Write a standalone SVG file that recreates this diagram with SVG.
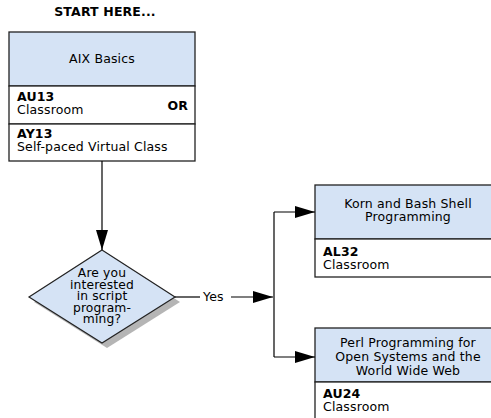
<svg xmlns="http://www.w3.org/2000/svg" width="491" height="418" viewBox="0 0 491 418">
<style>
text{font-family:"DejaVu Sans","Verdana",sans-serif;font-size:12.5px;letter-spacing:0.15px;fill:#000}
.b{font-weight:bold}
.c{text-anchor:middle}
.d{font-size:12.3px}
.hdr{fill:#d5e3f5;stroke:#222;stroke-width:1.3}
.body{fill:#fff;stroke:#222;stroke-width:1.3}
.ln{fill:none;stroke:#000;stroke-width:1.2}
</style>
<defs>
<marker id="ah" viewBox="0 0 20 12" refX="20" refY="6" markerWidth="20" markerHeight="12" markerUnits="userSpaceOnUse" orient="auto">
<path d="M0,0 L20,6 L0,12 Z" fill="#000"/>
</marker>
</defs>
<text class="b c" x="105" y="16">START HERE...</text>
<g id="aix">
<rect class="hdr" x="9" y="32" width="186" height="54"/>
<rect class="body" x="9" y="86" width="186" height="38"/>
<rect class="body" x="9" y="124" width="186" height="37"/>
<text class="c" x="102" y="63">AIX Basics</text>
<text class="b" x="17" y="101">AU13</text>
<text x="17" y="114">Classroom</text>
<text class="b" x="188" y="110" text-anchor="end">OR</text>
<text class="b" x="17" y="138">AY13</text>
<text x="17" y="151">Self-paced Virtual Class</text>
</g>
<g id="decision">
<polygon points="107,255 180,302 107,348 34,302" fill="#b5b5b5"/>
<polygon points="102,250 175,297 102,343 29,297" fill="#d5e3f5" stroke="#222" stroke-width="1.2"/>
<text class="c d" x="102" y="277">Are you</text>
<text class="c d" x="102" y="288.5">interested</text>
<text class="c d" x="102" y="300">in script</text>
<text class="c d" x="102" y="311.5">program-</text>
<text class="c d" x="102" y="323">ming?</text>
</g>
<g id="korn">
<rect class="hdr" x="315" y="185" width="186" height="54"/>
<rect class="body" x="315" y="239" width="186" height="38"/>
<text class="c" x="408" y="208">Korn and Bash Shell</text>
<text class="c" x="408" y="221">Programming</text>
<text class="b" x="323" y="256">AL32</text>
<text x="323" y="269">Classroom</text>
</g>
<g id="perl">
<rect class="hdr" x="315" y="328" width="186" height="54"/>
<rect class="body" x="315" y="382" width="186" height="40"/>
<text class="c" x="408" y="347">Perl Programming for</text>
<text class="c" x="408" y="361">Open Systems and the</text>
<text class="c" x="408" y="375">World Wide Web</text>
<text class="b" x="323" y="398">AU24</text>
<text x="323" y="411">Classroom</text>
</g>
<g id="connectors">
<path class="ln" d="M102,161 V250" marker-end="url(#ah)"/>
<path class="ln" d="M175,297 H200"/>
<text x="203" y="301">Yes</text>
<path class="ln" d="M231,297 H273" marker-end="url(#ah)"/>
<path class="ln" d="M274,212 V357"/>
<path class="ln" d="M274,212 H315" marker-end="url(#ah)"/>
<path class="ln" d="M274,357 H315" marker-end="url(#ah)"/>
</g>
</svg>
